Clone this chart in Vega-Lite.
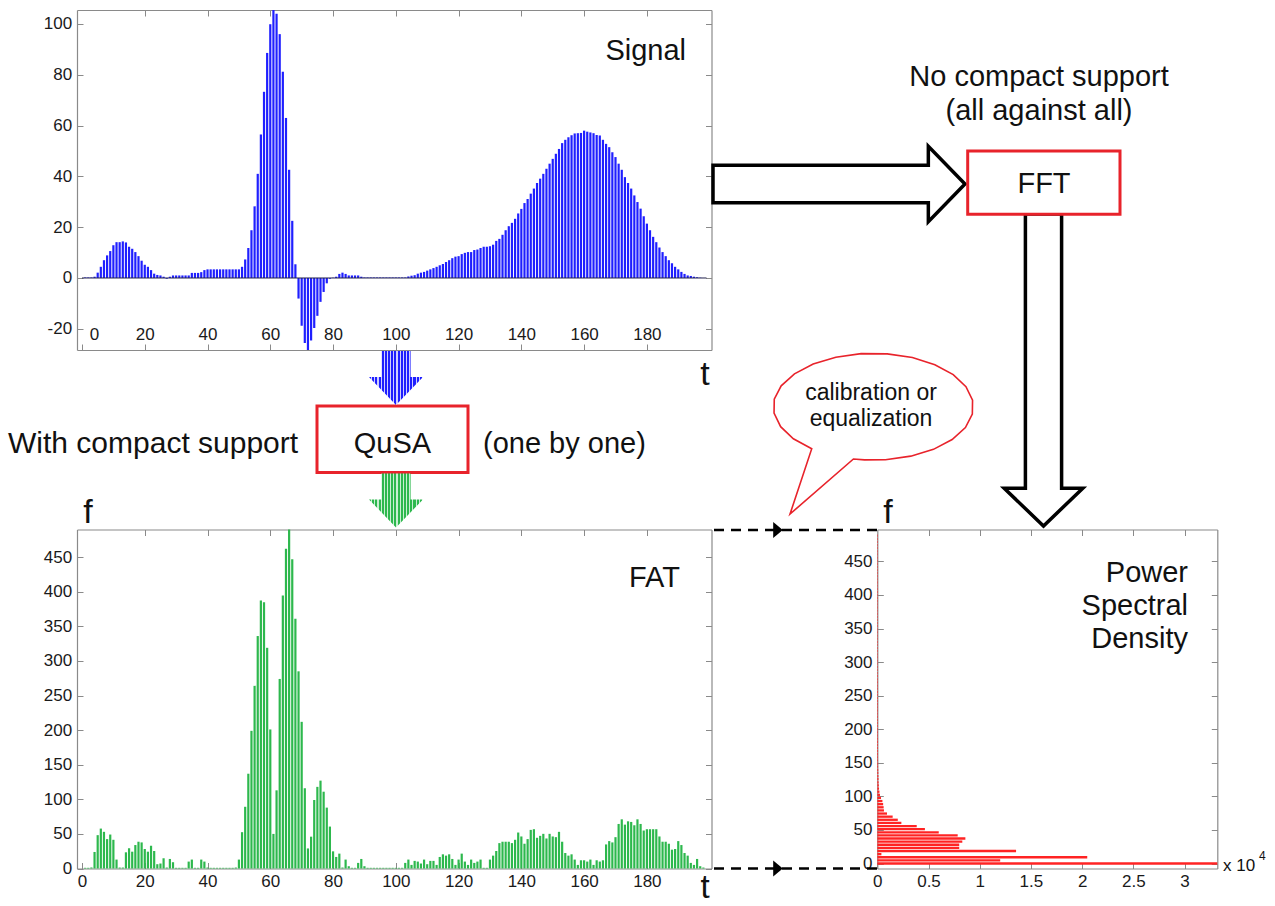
{
  "$schema": "https://vega.github.io/schema/vega-lite/v6.json",
  "width": 1275,
  "height": 906,
  "autosize": "none",
  "padding": 0,
  "background": "white",
  "config": {
    "view": {"stroke": null},
    "font": "Liberation Sans",
    "axis": {
      "grid": false,
      "domainColor": "#8a8a8a",
      "domainWidth": 1.2,
      "tickColor": "#8a8a8a",
      "tickWidth": 1,
      "tickSize": -6,
      "labelFont": "Liberation Sans",
      "labelFontSize": 17,
      "labelColor": "#1a1a1a",
      "labelFlush": false,
      "labelOverlap": false,
      "labelPadding": 11.3
    },
    "text": {"font": "Liberation Sans", "color": "#111111"}
  },
  "datasets": {
    "signal": [
      {"t":1,"v":0.2},{"t":2,"v":0.2},{"t":3,"v":0.2},{"t":4,"v":0.5},{"t":5,"v":2.1},{"t":6,"v":4.4},{"t":7,"v":7},{"t":8,"v":8.9},{"t":9,"v":10.6},{"t":10,"v":12.9},
      {"t":11,"v":14.1},{"t":12,"v":14.1},{"t":13,"v":14.4},{"t":14,"v":14},{"t":15,"v":12.3},{"t":16,"v":11.5},{"t":17,"v":10.2},{"t":18,"v":8.6},{"t":19,"v":6.8},{"t":20,"v":5.2},
      {"t":21,"v":4.4},{"t":22,"v":3.1},{"t":23,"v":1.7},{"t":24,"v":1.2},{"t":25,"v":1},{"t":26,"v":0.5},{"t":27,"v":-0.3},{"t":28,"v":0.5},{"t":29,"v":1},{"t":30,"v":1},
      {"t":31,"v":1},{"t":32,"v":1},{"t":33,"v":1},{"t":34,"v":1},{"t":35,"v":2},{"t":36,"v":2},{"t":37,"v":2},{"t":38,"v":2.3},{"t":39,"v":3.1},{"t":40,"v":3.4},
      {"t":41,"v":3.4},{"t":42,"v":3.4},{"t":43,"v":3.4},{"t":44,"v":3.4},{"t":45,"v":3.4},{"t":46,"v":3.4},{"t":47,"v":3.4},{"t":48,"v":3.4},{"t":49,"v":3.4},{"t":50,"v":3.4},
      {"t":51,"v":4.4},{"t":52,"v":7.3},{"t":53,"v":11.8},{"t":54,"v":18.8},{"t":55,"v":28.2},{"t":56,"v":41},{"t":57,"v":56.5},{"t":58,"v":73.3},{"t":59,"v":88.6},{"t":60,"v":99.9},
      {"t":61,"v":107},{"t":62,"v":104},{"t":63,"v":96},{"t":64,"v":81.2},{"t":65,"v":63},{"t":66,"v":42.6},{"t":67,"v":22.5},{"t":68,"v":5.4},{"t":69,"v":-8.1},{"t":70,"v":-18.8},
      {"t":71,"v":-25.6},{"t":72,"v":-30},{"t":73,"v":-24.6},{"t":74,"v":-19.7},{"t":75,"v":-14.9},{"t":76,"v":-9.4},{"t":77,"v":-5.5},{"t":78,"v":-2.1},{"t":79,"v":-0.3},{"t":80,"v":0.1},
      {"t":81,"v":0.5},{"t":82,"v":1.6},{"t":83,"v":2.1},{"t":84,"v":1.6},{"t":85,"v":1},{"t":86,"v":1},{"t":87,"v":1},{"t":88,"v":1},{"t":89,"v":0.5},{"t":90,"v":0.2},
      {"t":91,"v":0.2},{"t":92,"v":0.2},{"t":93,"v":0.2},{"t":94,"v":0.2},{"t":95,"v":0.2},{"t":96,"v":0.2},{"t":97,"v":0.2},{"t":98,"v":0.2},{"t":99,"v":0.2},{"t":100,"v":0.2},
      {"t":101,"v":0.2},{"t":102,"v":0.2},{"t":103,"v":0.2},{"t":104,"v":0.6},{"t":105,"v":0.9},{"t":106,"v":1.1},{"t":107,"v":1.7},{"t":108,"v":2.1},{"t":109,"v":2.4},{"t":110,"v":2.9},
      {"t":111,"v":3.4},{"t":112,"v":3.9},{"t":113,"v":4.4},{"t":114,"v":5},{"t":115,"v":5.5},{"t":116,"v":6.3},{"t":117,"v":7},{"t":118,"v":7.8},{"t":119,"v":8.4},{"t":120,"v":8.6},
      {"t":121,"v":9.4},{"t":122,"v":9.9},{"t":123,"v":10.2},{"t":124,"v":10.2},{"t":125,"v":11},{"t":126,"v":11.2},{"t":127,"v":11.8},{"t":128,"v":12.3},{"t":129,"v":12.3},{"t":130,"v":12.5},
      {"t":131,"v":13.1},{"t":132,"v":14.6},{"t":133,"v":15.4},{"t":134,"v":17},{"t":135,"v":18.8},{"t":136,"v":20.4},{"t":137,"v":21.7},{"t":138,"v":23.3},{"t":139,"v":25.4},{"t":140,"v":27.2},
      {"t":141,"v":29.5},{"t":142,"v":31.1},{"t":143,"v":33.2},{"t":144,"v":35.2},{"t":145,"v":37.4},{"t":146,"v":39.1},{"t":147,"v":41},{"t":148,"v":43},{"t":149,"v":45},{"t":150,"v":46.9},
      {"t":151,"v":48.9},{"t":152,"v":50.8},{"t":153,"v":53.1},{"t":154,"v":54.4},{"t":155,"v":55.4},{"t":156,"v":56.2},{"t":157,"v":56.9},{"t":158,"v":57},{"t":159,"v":57.1},{"t":160,"v":58},
      {"t":161,"v":57.6},{"t":162,"v":57.3},{"t":163,"v":57},{"t":164,"v":56.3},{"t":165,"v":56.1},{"t":166,"v":54.4},{"t":167,"v":52.8},{"t":168,"v":51.5},{"t":169,"v":49.5},{"t":170,"v":47.6},
      {"t":171,"v":45},{"t":172,"v":42.6},{"t":173,"v":39.7},{"t":174,"v":37.4},{"t":175,"v":35.2},{"t":176,"v":32.5},{"t":177,"v":29.9},{"t":178,"v":27.3},{"t":179,"v":24.3},{"t":180,"v":21.4},
      {"t":181,"v":18.8},{"t":182,"v":16.2},{"t":183,"v":14.1},{"t":184,"v":12},{"t":185,"v":10.2},{"t":186,"v":8.6},{"t":187,"v":7},{"t":188,"v":5.8},{"t":189,"v":4.4},{"t":190,"v":3.4},
      {"t":191,"v":2.4},{"t":192,"v":1.6},{"t":193,"v":1},{"t":194,"v":0.8},{"t":195,"v":0.5},{"t":196,"v":0.3},{"t":197,"v":0.1}
    ],
    "fat": [
      {"t":1,"v":1},{"t":2,"v":1},{"t":3,"v":1.5},{"t":4,"v":23.9},{"t":5,"v":48.2},{"t":6,"v":57.7},{"t":7,"v":53},{"t":8,"v":42.5},{"t":9,"v":49.1},{"t":10,"v":41.5},
      {"t":11,"v":12.9},{"t":12,"v":1.4},{"t":13,"v":1.4},{"t":14,"v":23.4},{"t":15,"v":29.1},{"t":16,"v":24.3},{"t":17,"v":33.9},{"t":18,"v":38.7},{"t":19,"v":37.7},{"t":20,"v":28.2},
      {"t":21,"v":24.3},{"t":22,"v":32.9},{"t":23,"v":25.3},{"t":24,"v":6.2},{"t":25,"v":7.2},{"t":26,"v":14.8},{"t":27,"v":1.4},{"t":28,"v":13.8},{"t":29,"v":9.1},{"t":30,"v":1},
      {"t":31,"v":1},{"t":32,"v":1},{"t":33,"v":1},{"t":34,"v":10},{"t":35,"v":12.9},{"t":36,"v":1},{"t":37,"v":1},{"t":38,"v":12.9},{"t":39,"v":10},{"t":40,"v":1.4},
      {"t":41,"v":1},{"t":42,"v":1},{"t":43,"v":1},{"t":44,"v":1},{"t":45,"v":1},{"t":46,"v":1},{"t":47,"v":1},{"t":48,"v":1},{"t":49,"v":1.4},{"t":50,"v":12.9},
      {"t":51,"v":52.5},{"t":52,"v":89.2},{"t":53,"v":137},{"t":54,"v":199},{"t":55,"v":264},{"t":56,"v":336},{"t":57,"v":387.5},{"t":58,"v":385},{"t":59,"v":319},{"t":60,"v":201},
      {"t":61,"v":50},{"t":62,"v":113},{"t":63,"v":274},{"t":64,"v":394.6},{"t":65,"v":462},{"t":66,"v":500},{"t":67,"v":447},{"t":68,"v":361},{"t":69,"v":285},{"t":70,"v":212},
      {"t":71,"v":116},{"t":72,"v":29},{"t":73,"v":46},{"t":74,"v":99},{"t":75,"v":118},{"t":76,"v":127},{"t":77,"v":111},{"t":78,"v":88},{"t":79,"v":60.6},{"t":80,"v":24.8},
      {"t":81,"v":16.7},{"t":82,"v":21.5},{"t":83,"v":1.4},{"t":84,"v":12.9},{"t":85,"v":3.3},{"t":86,"v":1},{"t":87,"v":1},{"t":88,"v":8.1},{"t":89,"v":13.8},{"t":90,"v":3.3},
      {"t":91,"v":1},{"t":92,"v":1},{"t":93,"v":1},{"t":94,"v":1},{"t":95,"v":1},{"t":96,"v":1},{"t":97,"v":1},{"t":98,"v":1},{"t":99,"v":1},{"t":100,"v":1},
      {"t":101,"v":1},{"t":102,"v":1},{"t":103,"v":8.1},{"t":104,"v":12.9},{"t":105,"v":5.2},{"t":106,"v":11},{"t":107,"v":10},{"t":108,"v":7.2},{"t":109,"v":12.9},{"t":110,"v":6.2},
      {"t":111,"v":11},{"t":112,"v":11},{"t":113,"v":5.2},{"t":114,"v":16.7},{"t":115,"v":20.5},{"t":116,"v":18.6},{"t":117,"v":20.5},{"t":118,"v":13.8},{"t":119,"v":5.2},{"t":120,"v":12.9},
      {"t":121,"v":21.5},{"t":122,"v":10},{"t":123,"v":5.2},{"t":124,"v":12.9},{"t":125,"v":8.1},{"t":126,"v":10},{"t":127,"v":12.9},{"t":128,"v":1},{"t":129,"v":1},{"t":130,"v":12.9},
      {"t":131,"v":18.6},{"t":132,"v":25.3},{"t":133,"v":36.7},{"t":134,"v":38.7},{"t":135,"v":38.7},{"t":136,"v":38.7},{"t":137,"v":36.7},{"t":138,"v":41.5},{"t":139,"v":52},{"t":140,"v":46.3},
      {"t":141,"v":35.8},{"t":142,"v":42.5},{"t":143,"v":55.8},{"t":144,"v":56.8},{"t":145,"v":44.4},{"t":146,"v":47.2},{"t":147,"v":50.1},{"t":148,"v":43.4},{"t":149,"v":50.1},{"t":150,"v":46.3},
      {"t":151,"v":45.3},{"t":152,"v":53},{"t":153,"v":38.7},{"t":154,"v":22.4},{"t":155,"v":18.6},{"t":156,"v":20.5},{"t":157,"v":12.9},{"t":158,"v":5.2},{"t":159,"v":11.9},{"t":160,"v":11.9},
      {"t":161,"v":10},{"t":162,"v":12.9},{"t":163,"v":5.2},{"t":164,"v":11.9},{"t":165,"v":10},{"t":166,"v":11.9},{"t":167,"v":34.8},{"t":168,"v":39.6},{"t":169,"v":37.7},{"t":170,"v":45.3},
      {"t":171,"v":64.4},{"t":172,"v":71.1},{"t":173,"v":63.4},{"t":174,"v":68.2},{"t":175,"v":67.3},{"t":176,"v":62.5},{"t":177,"v":71.1},{"t":178,"v":64.4},{"t":179,"v":54.9},{"t":180,"v":56.8},
      {"t":181,"v":56.8},{"t":182,"v":56.8},{"t":183,"v":56.8},{"t":184,"v":46.3},{"t":185,"v":38.7},{"t":186,"v":38.7},{"t":187,"v":35.8},{"t":188,"v":27.2},{"t":189,"v":28.2},{"t":190,"v":39.6},
      {"t":191,"v":33.9},{"t":192,"v":22.4},{"t":193,"v":18.6},{"t":194,"v":8.1},{"t":195,"v":5.2},{"t":196,"v":13.8},{"t":197,"v":3.3},{"t":198,"v":1.4}
    ],
    "psd": [
      {"f":0,"p":3.5},{"f":4.65,"p":1.2},{"f":9.3,"p":2.05},{"f":13.95,"p":0.04},{"f":18.6,"p":1.355},{"f":23.25,"p":0.8},{"f":27.9,"p":0.8},{"f":32.55,"p":0.83},{"f":37.2,"p":0.86},{"f":41.85,"p":0.785},
      {"f":46.5,"p":0.6},{"f":51.15,"p":0.465},{"f":55.8,"p":0.385},{"f":60.45,"p":0.235},{"f":65.1,"p":0.2},{"f":69.75,"p":0.15},{"f":74.4,"p":0.095},{"f":79.05,"p":0.065},{"f":83.7,"p":0.062},{"f":88.35,"p":0.057},
      {"f":93,"p":0.05},{"f":97.65,"p":0.036},{"f":102.3,"p":0.026},{"f":106.95,"p":0.021},{"f":111.6,"p":0.017},{"f":116.25,"p":0.015},{"f":120.9,"p":0.013},{"f":125.55,"p":0.012},{"f":130.2,"p":0.011},{"f":134.85,"p":0.01},
      {"f":139.5,"p":0.009},{"f":144.15,"p":0.008},{"f":148.8,"p":0.008},{"f":153.45,"p":0.007},{"f":158.1,"p":0.007},{"f":162.75,"p":0.007},{"f":167.4,"p":0.007},{"f":172.05,"p":0.007},{"f":176.7,"p":0.007},{"f":181.35,"p":0.007},
      {"f":186,"p":0.007},{"f":190.65,"p":0.006},{"f":195.3,"p":0.006},{"f":199.95,"p":0.006},{"f":204.6,"p":0.006},{"f":209.25,"p":0.006},{"f":213.9,"p":0.006},{"f":218.55,"p":0.006},{"f":223.2,"p":0.006},{"f":227.85,"p":0.006},
      {"f":232.5,"p":0.006},{"f":237.15,"p":0.006},{"f":241.8,"p":0.006},{"f":246.45,"p":0.006},{"f":251.1,"p":0.006},{"f":255.75,"p":0.006},{"f":260.4,"p":0.006},{"f":265.05,"p":0.006},{"f":269.7,"p":0.006},{"f":274.35,"p":0.006},
      {"f":279,"p":0.006},{"f":283.65,"p":0.005},{"f":288.3,"p":0.005},{"f":292.95,"p":0.005},{"f":297.6,"p":0.005},{"f":302.25,"p":0.005},{"f":306.9,"p":0.005},{"f":311.55,"p":0.005},{"f":316.2,"p":0.005},{"f":320.85,"p":0.005},
      {"f":325.5,"p":0.005},{"f":330.15,"p":0.005},{"f":334.8,"p":0.005},{"f":339.45,"p":0.005},{"f":344.1,"p":0.005},{"f":348.75,"p":0.005},{"f":353.4,"p":0.005},{"f":358.05,"p":0.005},{"f":362.7,"p":0.005},{"f":367.35,"p":0.005},
      {"f":372,"p":0.005},{"f":376.65,"p":0.005},{"f":381.3,"p":0.005},{"f":385.95,"p":0.005},{"f":390.6,"p":0.005},{"f":395.25,"p":0.005},{"f":399.9,"p":0.005},{"f":404.55,"p":0.005},{"f":409.2,"p":0.005},{"f":413.85,"p":0.005},
      {"f":418.5,"p":0.005},{"f":423.15,"p":0.005},{"f":427.8,"p":0.005},{"f":432.45,"p":0.005},{"f":437.1,"p":0.005},{"f":441.75,"p":0.005},{"f":446.4,"p":0.005},{"f":451.05,"p":0.005},{"f":455.7,"p":0.005},{"f":460.35,"p":0.005},
      {"f":465,"p":0.005},{"f":469.65,"p":0.005},{"f":474.3,"p":0.005},{"f":478.95,"p":0.005},{"f":483.6,"p":0.005},{"f":488.25,"p":0.005}
    ]
  },
  "layer": [
    {
      "data": {"name": "signal"},
      "layer": [
        {
          "mark": {"type": "bar", "size": 2.2, "color": "#1f1fff"},
          "encoding": {
            "x": {"field": "t", "type": "quantitative", "title": null,
              "scale": {"domain": [0, 199], "range": [77, 711.5], "nice": false, "zero": false},
              "axis": {"orient": "bottom", "offset": -556, "values": [0,20,40,60,80,100,120,140,160,180],
                "labelBaseline": "alphabetic", "labelPadding": -5,
                "labelOffset": {"condition": {"test": "datum.value === 0", "value": 12}, "value": 0}}},
            "y": {"field": "v", "type": "quantitative", "title": null,
              "scale": {"domain": [-28.35, 105.5], "range": [350, 10], "nice": false, "zero": false, "clamp": true},
              "axis": {"orient": "left", "offset": -77, "values": [-20,0,20,40,60,80,100],
                "labelExpr": "datum.value < 0 ? '-' + abs(datum.value) : datum.label"}}
          }
        },
        {
          "data": {"values": [{}]},
          "mark": {"type": "rule", "color": "#22224a", "strokeWidth": 1},
          "encoding": {
            "x": {"datum": 0, "type": "quantitative", "title": null,
              "scale": {"domain": [0, 199], "range": [77, 711.5], "nice": false, "zero": false},
              "axis": {"orient": "top", "offset": -10, "values": [20,40,60,80,100,120,140,160,180], "labels": false}},
            "x2": {"datum": 199},
            "y": {"datum": 0, "type": "quantitative", "title": null,
              "scale": {"domain": [-28.35, 105.5], "range": [350, 10], "nice": false, "zero": false, "clamp": true},
              "axis": {"orient": "right", "offset": -563.5, "values": [-20,0,20,40,60,80,100], "labels": false}}
          }
        }
      ],
      "resolve": {"axis": {"x": "independent", "y": "independent"}}
    },
    {
      "data": {"name": "fat"},
      "layer": [
        {
          "mark": {"type": "bar", "size": 2.2, "color": "#2db84d"},
          "encoding": {
            "x": {"field": "t", "type": "quantitative", "title": null,
              "scale": {"domain": [0, 199], "range": [77, 711.5], "nice": false, "zero": false},
              "axis": {"orient": "bottom", "offset": -37.5, "values": [0,20,40,60,80,100,120,140,160,180],
                "labelBaseline": "alphabetic", "labelPadding": 24.2}},
            "y": {"field": "v", "type": "quantitative", "title": null,
              "scale": {"domain": [0, 490], "range": [868.5, 529.5], "nice": false, "zero": false, "clamp": true},
              "axis": {"orient": "left", "offset": -77, "values": [0,50,100,150,200,250,300,350,400,450]}}
          }
        },
        {
          "data": {"values": [{}]},
          "mark": {"type": "rule", "opacity": 0},
          "encoding": {
            "x": {"datum": 0, "type": "quantitative", "title": null,
              "scale": {"domain": [0, 199], "range": [77, 711.5], "nice": false, "zero": false},
              "axis": {"orient": "top", "offset": -529.5, "values": [20,40,60,80,100,120,140,160,180], "labels": false}},
            "y": {"datum": 0, "type": "quantitative", "title": null,
              "scale": {"domain": [0, 490], "range": [868.5, 529.5], "nice": false, "zero": false, "clamp": true},
              "axis": {"orient": "right", "offset": -563.5, "values": [0,50,100,150,200,250,300,350,400,450], "labels": false}}
          }
        }
      ],
      "resolve": {"axis": {"x": "independent", "y": "independent"}}
    },
    {
      "data": {"name": "psd"},
      "layer": [
        {
          "mark": {"type": "bar", "orient": "horizontal", "size": 2.3, "color": "#ff2323"},
          "encoding": {
            "x": {"field": "p", "type": "quantitative", "title": null,
              "scale": {"domain": [0, 3.32], "range": [877.3, 1217.3], "nice": false, "zero": false, "clamp": true},
              "axis": {"orient": "bottom", "offset": -37.5, "values": [0,0.5,1,1.5,2,2.5,3], "format": "~g",
                "labelBaseline": "alphabetic", "labelPadding": 24.2}},
            "y": {"field": "f", "type": "quantitative", "title": null,
              "scale": {"domain": [0, 490], "range": [868.5, 529.5], "nice": false, "zero": false, "clamp": true},
              "axis": {"orient": "left", "offset": -877.3, "values": [0,50,100,150,200,250,300,350,400,450]}}
          }
        },
        {
          "data": {"values": [{}]},
          "mark": {"type": "rule", "opacity": 0},
          "encoding": {
            "x": {"datum": 0, "type": "quantitative", "title": null,
              "scale": {"domain": [0, 3.32], "range": [877.3, 1217.3], "nice": false, "zero": false, "clamp": true},
              "axis": {"orient": "top", "offset": -529.5, "values": [0.5,1,1.5,2,2.5,3], "labels": false}},
            "y": {"datum": 0, "type": "quantitative", "title": null,
              "scale": {"domain": [0, 490], "range": [868.5, 529.5], "nice": false, "zero": false, "clamp": true},
              "axis": {"orient": "right", "offset": -57.7, "values": [0,50,100,150,200,250,300,350,400,450], "labels": false}}
          }
        }
      ],
      "resolve": {"axis": {"x": "independent", "y": "independent"}}
    },
    {
      "data": {"values": [{}]},
      "layer": [
        {
          "mark": {"type": "point", "shape": "M-1,-0.148L0.709,-0.148L0.709,-0.3L1,0L0.709,0.3L0.709,0.148L-1,0.148Z", "size": 63504, "filled": true, "fill": "white", "stroke": "black", "strokeWidth": 3.5, "opacity": 1, "strokeJoin": "miter"},
          "encoding": {
            "x": {"datum": 839, "type": "quantitative", "scale": {"domain": [0, 1275], "range": [0, 1275], "nice": false, "zero": false}, "axis": null},
            "y": {"datum": 184, "type": "quantitative", "scale": {"domain": [0, 906], "range": [0, 906], "nice": false, "zero": false}, "axis": null}
          }
        },
        {
          "mark": {"type": "point", "shape": "M-0.116,-1L-0.116,0.758L-0.252,0.758L0,1L0.252,0.758L0.116,0.758L0.116,-1Z", "size": 97344, "filled": true, "fill": "white", "stroke": "black", "strokeWidth": 3.5, "opacity": 1, "strokeJoin": "miter"},
          "encoding": {
            "x": {"datum": 1043.5, "type": "quantitative", "scale": {"domain": [0, 1275], "range": [0, 1275], "nice": false, "zero": false}, "axis": null},
            "y": {"datum": 370, "type": "quantitative", "scale": {"domain": [0, 906], "range": [0, 906], "nice": false, "zero": false}, "axis": null}
          }
        },
        {
          "mark": {"type": "rect", "fill": "white", "stroke": "#e8232b", "strokeWidth": 3},
          "encoding": {
            "x": {"datum": 967.7, "type": "quantitative", "scale": {"domain": [0, 1275], "range": [0, 1275], "nice": false, "zero": false}, "axis": null},
            "x2": {"datum": 1120},
            "y": {"datum": 151, "type": "quantitative", "scale": {"domain": [0, 906], "range": [0, 906], "nice": false, "zero": false}, "axis": null},
            "y2": {"datum": 214.3}
          }
        },
        {
          "mark": {"type": "rect", "fill": "white", "stroke": "#e8232b", "strokeWidth": 3},
          "encoding": {
            "x": {"datum": 317, "type": "quantitative", "scale": {"domain": [0, 1275], "range": [0, 1275], "nice": false, "zero": false}, "axis": null},
            "x2": {"datum": 468},
            "y": {"datum": 406, "type": "quantitative", "scale": {"domain": [0, 906], "range": [0, 906], "nice": false, "zero": false}, "axis": null},
            "y2": {"datum": 472.5}
          }
        },
        {
          "mark": {"type": "point", "shape": "M-0.54,-1L0.54,-1L0.54,-0.04L1,-0.04L0,1L-1,-0.04L-0.54,-0.04Z", "size": 2916, "filled": true, "strokeWidth": 0, "opacity": 1,
            "fill": {"gradient": "linear", "x1": 0, "y1": 0, "x2": 1, "y2": 0, "stops": [
              {"offset":0,"color":"#1f1fff"},{"offset":0.0382,"color":"#1f1fff"},{"offset":0.0382,"color":"#cfcfff"},{"offset":0.0588,"color":"#cfcfff"},
              {"offset":0.0588,"color":"#1f1fff"},{"offset":0.0971,"color":"#1f1fff"},{"offset":0.0971,"color":"#cfcfff"},{"offset":0.1176,"color":"#cfcfff"},
              {"offset":0.1176,"color":"#1f1fff"},{"offset":0.1559,"color":"#1f1fff"},{"offset":0.1559,"color":"#cfcfff"},{"offset":0.1765,"color":"#cfcfff"},
              {"offset":0.1765,"color":"#1f1fff"},{"offset":0.2147,"color":"#1f1fff"},{"offset":0.2147,"color":"#cfcfff"},{"offset":0.2353,"color":"#cfcfff"},
              {"offset":0.2353,"color":"#1f1fff"},{"offset":0.2735,"color":"#1f1fff"},{"offset":0.2735,"color":"#cfcfff"},{"offset":0.2941,"color":"#cfcfff"},
              {"offset":0.2941,"color":"#1f1fff"},{"offset":0.3324,"color":"#1f1fff"},{"offset":0.3324,"color":"#cfcfff"},{"offset":0.3529,"color":"#cfcfff"},
              {"offset":0.3529,"color":"#1f1fff"},{"offset":0.3912,"color":"#1f1fff"},{"offset":0.3912,"color":"#cfcfff"},{"offset":0.4118,"color":"#cfcfff"},
              {"offset":0.4118,"color":"#1f1fff"},{"offset":0.45,"color":"#1f1fff"},{"offset":0.45,"color":"#cfcfff"},{"offset":0.4706,"color":"#cfcfff"},
              {"offset":0.4706,"color":"#1f1fff"},{"offset":0.5088,"color":"#1f1fff"},{"offset":0.5088,"color":"#cfcfff"},{"offset":0.5294,"color":"#cfcfff"},
              {"offset":0.5294,"color":"#1f1fff"},{"offset":0.5676,"color":"#1f1fff"},{"offset":0.5676,"color":"#cfcfff"},{"offset":0.5882,"color":"#cfcfff"},
              {"offset":0.5882,"color":"#1f1fff"},{"offset":0.6265,"color":"#1f1fff"},{"offset":0.6265,"color":"#cfcfff"},{"offset":0.6471,"color":"#cfcfff"},
              {"offset":0.6471,"color":"#1f1fff"},{"offset":0.6853,"color":"#1f1fff"},{"offset":0.6853,"color":"#cfcfff"},{"offset":0.7059,"color":"#cfcfff"},
              {"offset":0.7059,"color":"#1f1fff"},{"offset":0.7441,"color":"#1f1fff"},{"offset":0.7441,"color":"#cfcfff"},{"offset":0.7647,"color":"#cfcfff"},
              {"offset":0.7647,"color":"#1f1fff"},{"offset":0.8029,"color":"#1f1fff"},{"offset":0.8029,"color":"#cfcfff"},{"offset":0.8235,"color":"#cfcfff"},
              {"offset":0.8235,"color":"#1f1fff"},{"offset":0.8618,"color":"#1f1fff"},{"offset":0.8618,"color":"#cfcfff"},{"offset":0.8824,"color":"#cfcfff"},
              {"offset":0.8824,"color":"#1f1fff"},{"offset":0.9206,"color":"#1f1fff"},{"offset":0.9206,"color":"#cfcfff"},{"offset":0.9412,"color":"#cfcfff"},
              {"offset":0.9412,"color":"#1f1fff"},{"offset":0.9794,"color":"#1f1fff"},{"offset":0.9794,"color":"#cfcfff"},{"offset":1,"color":"#cfcfff"}
            ]}},
          "encoding": {
            "x": {"datum": 396, "type": "quantitative", "scale": {"domain": [0, 1275], "range": [0, 1275], "nice": false, "zero": false}, "axis": null},
            "y": {"datum": 378, "type": "quantitative", "scale": {"domain": [0, 906], "range": [0, 906], "nice": false, "zero": false}, "axis": null}
          }
        },
        {
          "mark": {"type": "point", "shape": "M-0.54,-1L0.54,-1L0.54,-0.04L1,-0.04L0,1L-1,-0.04L-0.54,-0.04Z", "size": 2916, "filled": true, "strokeWidth": 0, "opacity": 1,
            "fill": {"gradient": "linear", "x1": 0, "y1": 0, "x2": 1, "y2": 0, "stops": [
              {"offset":0,"color":"#2db84d"},{"offset":0.0382,"color":"#2db84d"},{"offset":0.0382,"color":"#c8efd2"},{"offset":0.0588,"color":"#c8efd2"},
              {"offset":0.0588,"color":"#2db84d"},{"offset":0.0971,"color":"#2db84d"},{"offset":0.0971,"color":"#c8efd2"},{"offset":0.1176,"color":"#c8efd2"},
              {"offset":0.1176,"color":"#2db84d"},{"offset":0.1559,"color":"#2db84d"},{"offset":0.1559,"color":"#c8efd2"},{"offset":0.1765,"color":"#c8efd2"},
              {"offset":0.1765,"color":"#2db84d"},{"offset":0.2147,"color":"#2db84d"},{"offset":0.2147,"color":"#c8efd2"},{"offset":0.2353,"color":"#c8efd2"},
              {"offset":0.2353,"color":"#2db84d"},{"offset":0.2735,"color":"#2db84d"},{"offset":0.2735,"color":"#c8efd2"},{"offset":0.2941,"color":"#c8efd2"},
              {"offset":0.2941,"color":"#2db84d"},{"offset":0.3324,"color":"#2db84d"},{"offset":0.3324,"color":"#c8efd2"},{"offset":0.3529,"color":"#c8efd2"},
              {"offset":0.3529,"color":"#2db84d"},{"offset":0.3912,"color":"#2db84d"},{"offset":0.3912,"color":"#c8efd2"},{"offset":0.4118,"color":"#c8efd2"},
              {"offset":0.4118,"color":"#2db84d"},{"offset":0.45,"color":"#2db84d"},{"offset":0.45,"color":"#c8efd2"},{"offset":0.4706,"color":"#c8efd2"},
              {"offset":0.4706,"color":"#2db84d"},{"offset":0.5088,"color":"#2db84d"},{"offset":0.5088,"color":"#c8efd2"},{"offset":0.5294,"color":"#c8efd2"},
              {"offset":0.5294,"color":"#2db84d"},{"offset":0.5676,"color":"#2db84d"},{"offset":0.5676,"color":"#c8efd2"},{"offset":0.5882,"color":"#c8efd2"},
              {"offset":0.5882,"color":"#2db84d"},{"offset":0.6265,"color":"#2db84d"},{"offset":0.6265,"color":"#c8efd2"},{"offset":0.6471,"color":"#c8efd2"},
              {"offset":0.6471,"color":"#2db84d"},{"offset":0.6853,"color":"#2db84d"},{"offset":0.6853,"color":"#c8efd2"},{"offset":0.7059,"color":"#c8efd2"},
              {"offset":0.7059,"color":"#2db84d"},{"offset":0.7441,"color":"#2db84d"},{"offset":0.7441,"color":"#c8efd2"},{"offset":0.7647,"color":"#c8efd2"},
              {"offset":0.7647,"color":"#2db84d"},{"offset":0.8029,"color":"#2db84d"},{"offset":0.8029,"color":"#c8efd2"},{"offset":0.8235,"color":"#c8efd2"},
              {"offset":0.8235,"color":"#2db84d"},{"offset":0.8618,"color":"#2db84d"},{"offset":0.8618,"color":"#c8efd2"},{"offset":0.8824,"color":"#c8efd2"},
              {"offset":0.8824,"color":"#2db84d"},{"offset":0.9206,"color":"#2db84d"},{"offset":0.9206,"color":"#c8efd2"},{"offset":0.9412,"color":"#c8efd2"},
              {"offset":0.9412,"color":"#2db84d"},{"offset":0.9794,"color":"#2db84d"},{"offset":0.9794,"color":"#c8efd2"},{"offset":1,"color":"#c8efd2"}
            ]}},
          "encoding": {
            "x": {"datum": 396, "type": "quantitative", "scale": {"domain": [0, 1275], "range": [0, 1275], "nice": false, "zero": false}, "axis": null},
            "y": {"datum": 500.5, "type": "quantitative", "scale": {"domain": [0, 906], "range": [0, 906], "nice": false, "zero": false}, "axis": null}
          }
        },
        {
          "mark": {"type": "point", "shape": "M-0.570,0.389L-0.740,0.297L-0.858,0.185L-0.919,0.060L-0.917,-0.069L-0.853,-0.193L-0.730,-0.304L-0.557,-0.395L-0.347,-0.458L-0.113,-0.491L0.129,-0.489L0.362,-0.455L0.570,-0.389L0.740,-0.297L0.858,-0.185L0.919,-0.060L0.917,0.069L0.853,0.193L0.730,0.304L0.557,0.395L0.347,0.458L0.113,0.491L-0.081,0.492L-0.184,0.484L-0.771,0.994Z", "size": 46656, "filled": true, "fill": "white", "stroke": "#e8232b", "strokeWidth": 1.6, "opacity": 1},
          "encoding": {
            "x": {"datum": 873.3, "type": "quantitative", "scale": {"domain": [0, 1275], "range": [0, 1275], "nice": false, "zero": false}, "axis": null},
            "y": {"datum": 406.7, "type": "quantitative", "scale": {"domain": [0, 906], "range": [0, 906], "nice": false, "zero": false}, "axis": null}
          }
        },
        {
          "mark": {"type": "rule", "color": "black", "strokeWidth": 2.5, "strokeDash": [10, 7]},
          "encoding": {
            "x": {"datum": 714, "type": "quantitative", "scale": {"domain": [0, 1275], "range": [0, 1275], "nice": false, "zero": false}, "axis": null},
            "x2": {"datum": 877},
            "y": {"datum": 530, "type": "quantitative", "scale": {"domain": [0, 906], "range": [0, 906], "nice": false, "zero": false}, "axis": null}
          }
        },
        {
          "mark": {"type": "rule", "color": "black", "strokeWidth": 2.5, "strokeDash": [10, 7]},
          "encoding": {
            "x": {"datum": 714, "type": "quantitative", "scale": {"domain": [0, 1275], "range": [0, 1275], "nice": false, "zero": false}, "axis": null},
            "x2": {"datum": 877},
            "y": {"datum": 868.5, "type": "quantitative", "scale": {"domain": [0, 906], "range": [0, 906], "nice": false, "zero": false}, "axis": null}
          }
        },
        {
          "mark": {"type": "point", "shape": "M-0.6,-1L0.6,0L-0.6,1Z", "size": 256, "filled": true, "color": "black", "opacity": 1},
          "encoding": {
            "x": {"datum": 778, "type": "quantitative", "scale": {"domain": [0, 1275], "range": [0, 1275], "nice": false, "zero": false}, "axis": null},
            "y": {"datum": 530, "type": "quantitative", "scale": {"domain": [0, 906], "range": [0, 906], "nice": false, "zero": false}, "axis": null}
          }
        },
        {
          "mark": {"type": "point", "shape": "M-0.6,-1L0.6,0L-0.6,1Z", "size": 256, "filled": true, "color": "black", "opacity": 1},
          "encoding": {
            "x": {"datum": 778, "type": "quantitative", "scale": {"domain": [0, 1275], "range": [0, 1275], "nice": false, "zero": false}, "axis": null},
            "y": {"datum": 868.5, "type": "quantitative", "scale": {"domain": [0, 906], "range": [0, 906], "nice": false, "zero": false}, "axis": null}
          }
        },
        {
          "mark": {"type": "text", "text": "Signal", "fontSize": 29, "align": "right", "baseline": "alphabetic"},
          "encoding": {
            "x": {"datum": 686, "type": "quantitative", "scale": {"domain": [0, 1275], "range": [0, 1275], "nice": false, "zero": false}, "axis": null},
            "y": {"datum": 60, "type": "quantitative", "scale": {"domain": [0, 906], "range": [0, 906], "nice": false, "zero": false}, "axis": null}
          }
        },
        {
          "mark": {"type": "text", "text": "t", "fontSize": 34, "align": "center", "baseline": "alphabetic"},
          "encoding": {
            "x": {"datum": 705, "type": "quantitative", "scale": {"domain": [0, 1275], "range": [0, 1275], "nice": false, "zero": false}, "axis": null},
            "y": {"datum": 385, "type": "quantitative", "scale": {"domain": [0, 906], "range": [0, 906], "nice": false, "zero": false}, "axis": null}
          }
        },
        {
          "mark": {"type": "text", "text": ["No compact support", "(all against all)"], "lineHeight": 34, "fontSize": 29, "align": "center", "baseline": "alphabetic"},
          "encoding": {
            "x": {"datum": 1039, "type": "quantitative", "scale": {"domain": [0, 1275], "range": [0, 1275], "nice": false, "zero": false}, "axis": null},
            "y": {"datum": 86, "type": "quantitative", "scale": {"domain": [0, 906], "range": [0, 906], "nice": false, "zero": false}, "axis": null}
          }
        },
        {
          "mark": {"type": "text", "text": "FFT", "fontSize": 29, "align": "center", "baseline": "alphabetic"},
          "encoding": {
            "x": {"datum": 1044, "type": "quantitative", "scale": {"domain": [0, 1275], "range": [0, 1275], "nice": false, "zero": false}, "axis": null},
            "y": {"datum": 193, "type": "quantitative", "scale": {"domain": [0, 906], "range": [0, 906], "nice": false, "zero": false}, "axis": null}
          }
        },
        {
          "mark": {"type": "text", "text": "With compact support", "fontSize": 30, "align": "left", "baseline": "alphabetic"},
          "encoding": {
            "x": {"datum": 8, "type": "quantitative", "scale": {"domain": [0, 1275], "range": [0, 1275], "nice": false, "zero": false}, "axis": null},
            "y": {"datum": 453, "type": "quantitative", "scale": {"domain": [0, 906], "range": [0, 906], "nice": false, "zero": false}, "axis": null}
          }
        },
        {
          "mark": {"type": "text", "text": "QuSA", "fontSize": 29, "align": "center", "baseline": "alphabetic"},
          "encoding": {
            "x": {"datum": 392.5, "type": "quantitative", "scale": {"domain": [0, 1275], "range": [0, 1275], "nice": false, "zero": false}, "axis": null},
            "y": {"datum": 453, "type": "quantitative", "scale": {"domain": [0, 906], "range": [0, 906], "nice": false, "zero": false}, "axis": null}
          }
        },
        {
          "mark": {"type": "text", "text": "(one by one)", "fontSize": 29, "align": "left", "baseline": "alphabetic"},
          "encoding": {
            "x": {"datum": 483, "type": "quantitative", "scale": {"domain": [0, 1275], "range": [0, 1275], "nice": false, "zero": false}, "axis": null},
            "y": {"datum": 453, "type": "quantitative", "scale": {"domain": [0, 906], "range": [0, 906], "nice": false, "zero": false}, "axis": null}
          }
        },
        {
          "mark": {"type": "text", "text": "f", "fontSize": 34, "align": "center", "baseline": "alphabetic"},
          "encoding": {
            "x": {"datum": 88, "type": "quantitative", "scale": {"domain": [0, 1275], "range": [0, 1275], "nice": false, "zero": false}, "axis": null},
            "y": {"datum": 523, "type": "quantitative", "scale": {"domain": [0, 906], "range": [0, 906], "nice": false, "zero": false}, "axis": null}
          }
        },
        {
          "mark": {"type": "text", "text": "FAT", "fontSize": 29, "align": "right", "baseline": "alphabetic"},
          "encoding": {
            "x": {"datum": 680, "type": "quantitative", "scale": {"domain": [0, 1275], "range": [0, 1275], "nice": false, "zero": false}, "axis": null},
            "y": {"datum": 587, "type": "quantitative", "scale": {"domain": [0, 906], "range": [0, 906], "nice": false, "zero": false}, "axis": null}
          }
        },
        {
          "mark": {"type": "text", "text": "t", "fontSize": 33, "align": "center", "baseline": "bottom"},
          "encoding": {
            "x": {"datum": 705, "type": "quantitative", "scale": {"domain": [0, 1275], "range": [0, 1275], "nice": false, "zero": false}, "axis": null},
            "y": {"datum": 905, "type": "quantitative", "scale": {"domain": [0, 906], "range": [0, 906], "nice": false, "zero": false}, "axis": null}
          }
        },
        {
          "mark": {"type": "text", "text": "f", "fontSize": 34, "align": "center", "baseline": "alphabetic"},
          "encoding": {
            "x": {"datum": 888, "type": "quantitative", "scale": {"domain": [0, 1275], "range": [0, 1275], "nice": false, "zero": false}, "axis": null},
            "y": {"datum": 523, "type": "quantitative", "scale": {"domain": [0, 906], "range": [0, 906], "nice": false, "zero": false}, "axis": null}
          }
        },
        {
          "mark": {"type": "text", "text": ["Power", "Spectral", "Density"], "lineHeight": 33, "fontSize": 29, "align": "right", "baseline": "alphabetic"},
          "encoding": {
            "x": {"datum": 1188, "type": "quantitative", "scale": {"domain": [0, 1275], "range": [0, 1275], "nice": false, "zero": false}, "axis": null},
            "y": {"datum": 582, "type": "quantitative", "scale": {"domain": [0, 906], "range": [0, 906], "nice": false, "zero": false}, "axis": null}
          }
        },
        {
          "mark": {"type": "text", "text": ["calibration or", "equalization"], "lineHeight": 26, "fontSize": 23, "align": "center", "baseline": "alphabetic"},
          "encoding": {
            "x": {"datum": 871, "type": "quantitative", "scale": {"domain": [0, 1275], "range": [0, 1275], "nice": false, "zero": false}, "axis": null},
            "y": {"datum": 400, "type": "quantitative", "scale": {"domain": [0, 906], "range": [0, 906], "nice": false, "zero": false}, "axis": null}
          }
        },
        {
          "mark": {"type": "text", "text": "x 10", "fontSize": 17, "align": "left", "baseline": "alphabetic"},
          "encoding": {
            "x": {"datum": 1223, "type": "quantitative", "scale": {"domain": [0, 1275], "range": [0, 1275], "nice": false, "zero": false}, "axis": null},
            "y": {"datum": 871, "type": "quantitative", "scale": {"domain": [0, 906], "range": [0, 906], "nice": false, "zero": false}, "axis": null}
          }
        },
        {
          "mark": {"type": "text", "text": "4", "fontSize": 12, "align": "left", "baseline": "alphabetic"},
          "encoding": {
            "x": {"datum": 1259, "type": "quantitative", "scale": {"domain": [0, 1275], "range": [0, 1275], "nice": false, "zero": false}, "axis": null},
            "y": {"datum": 860, "type": "quantitative", "scale": {"domain": [0, 906], "range": [0, 906], "nice": false, "zero": false}, "axis": null}
          }
        }
      ]
    }
  ],
  "resolve": {
    "scale": {"x": "independent", "y": "independent"},
    "axis": {"x": "independent", "y": "independent"}
  }
}
